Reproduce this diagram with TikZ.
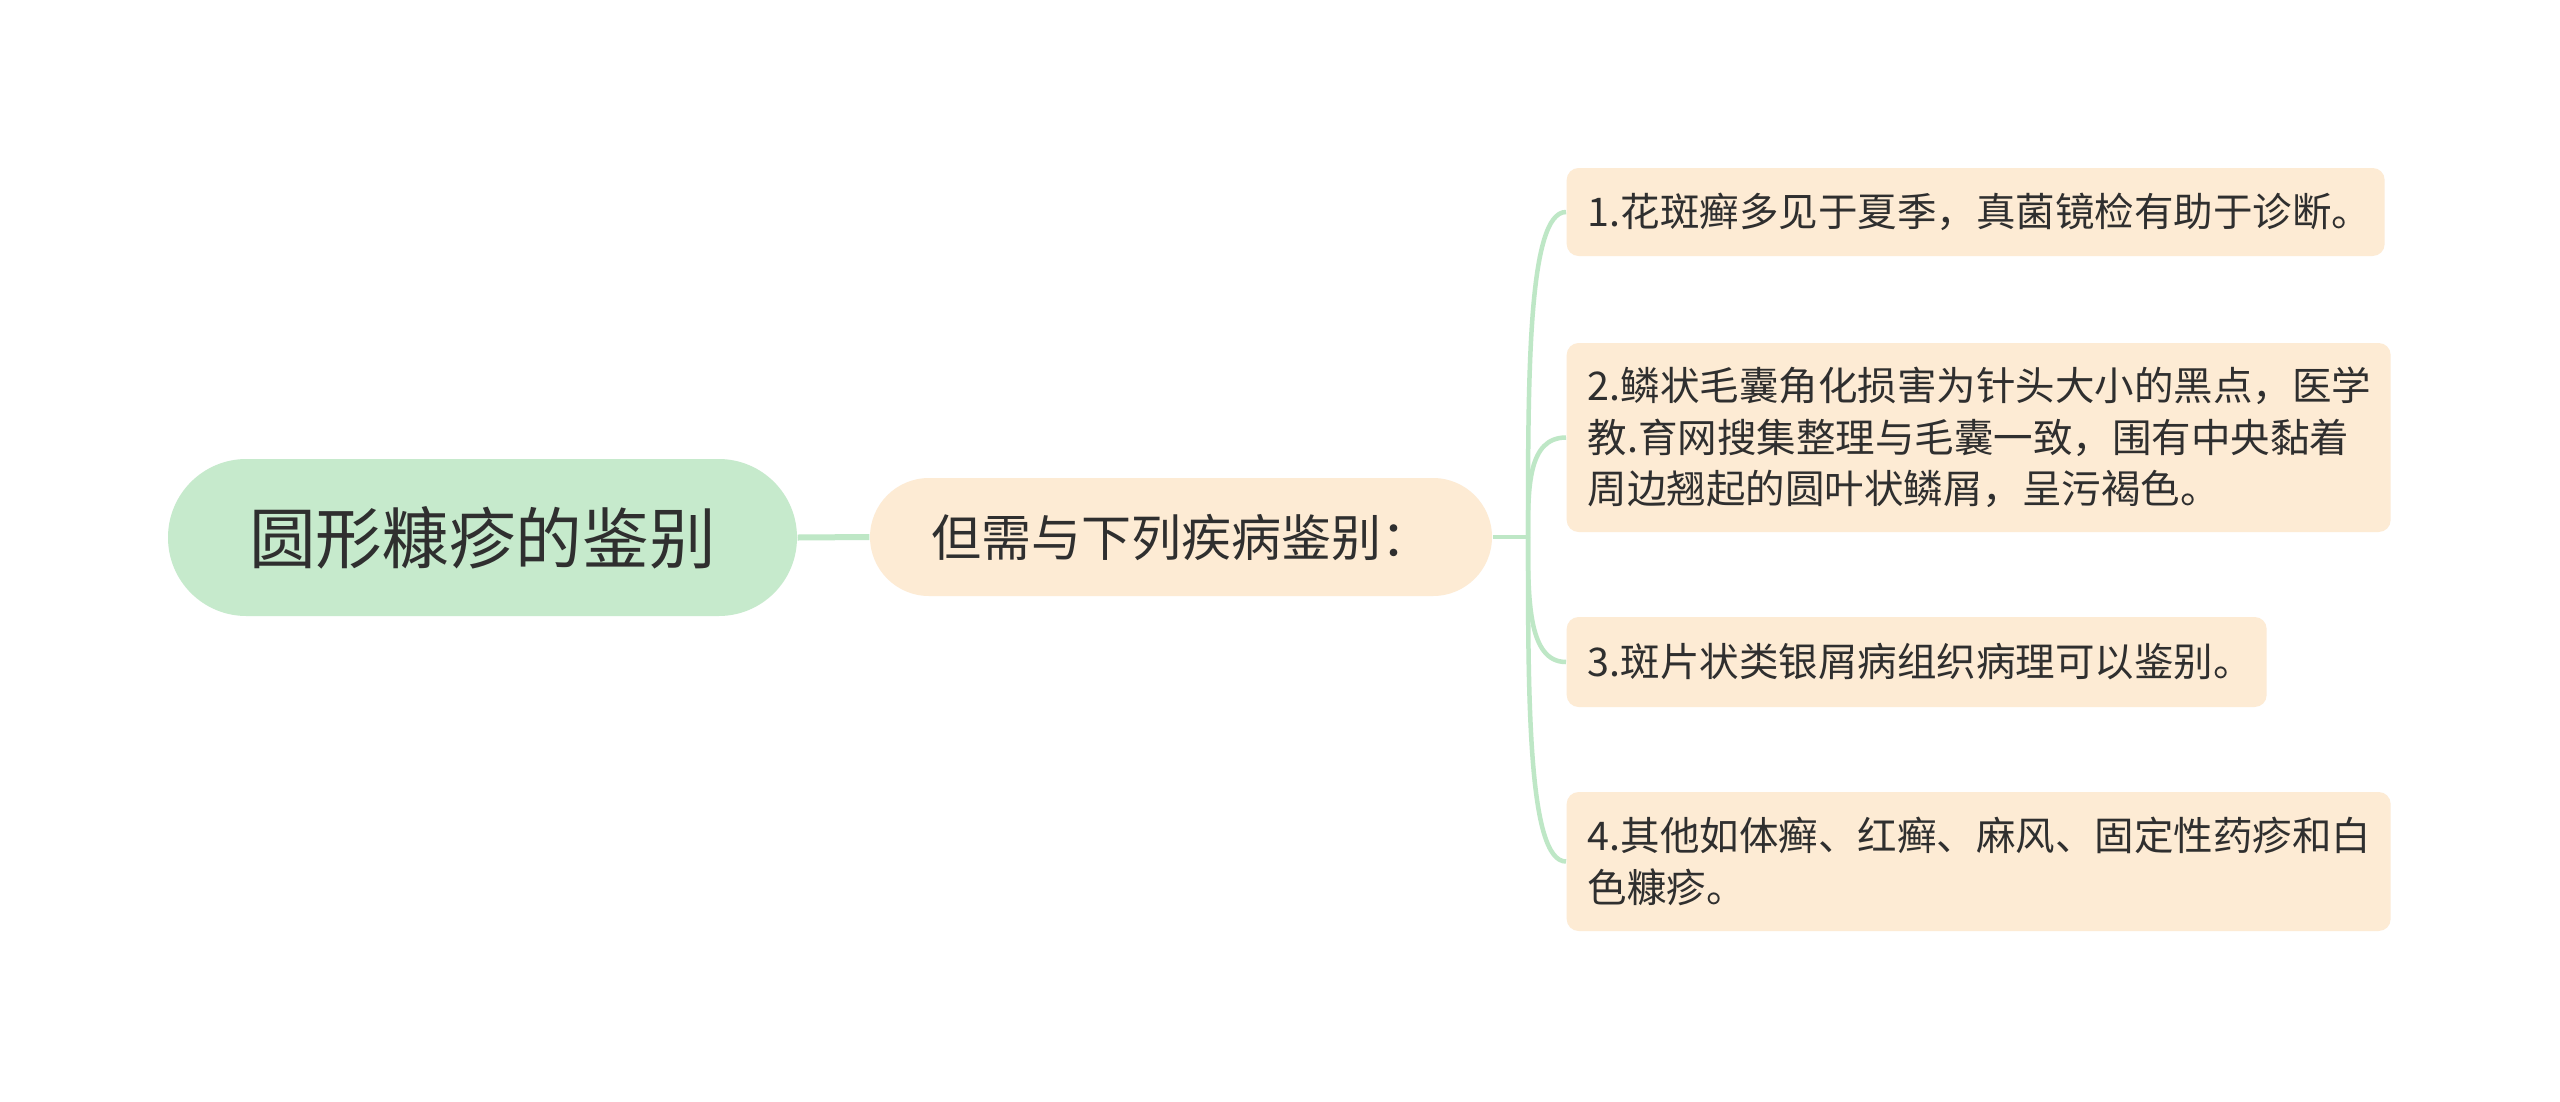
\documentclass[tikz,border=0pt]{standalone}
\usepackage{fontspec}
\setmainfont{Noto Sans CJK SC}
\usetikzlibrary{calc}
\definecolor{rootfill}{HTML}{C6EACC}
\definecolor{peach}{HTML}{FDEBD4}
\definecolor{linkgreen}{HTML}{BEE7C6}
\definecolor{txt}{HTML}{2F2F2F}
\begin{document}
\begin{tikzpicture}[x=0.3pt,y=-0.3pt,
  rootbox/.style={fill=rootfill, text=txt, inner sep=0pt, rounded corners=23.5pt,
    minimum width=188.7pt, minimum height=47.1pt, font=\fontsize{20pt}{24pt}\selectfont},
  midbox/.style={fill=peach, text=txt, inner sep=0pt, rounded corners=17.7pt,
    minimum width=186.6pt, minimum height=35.4pt, font=\fontsize{15pt}{18pt}\selectfont},
  leafbox/.style={fill=peach, text=txt, anchor=west, inner xsep=6.3pt, inner ysep=0pt,
    rounded corners=3.6pt, align=left, font=\fontsize{11.85pt}{15.5pt}\selectfont},
  link/.style={draw=linkgreen, line width=1.8pt},
  branch/.style={draw=linkgreen, line width=1.35pt}
]
\useasboundingbox (0,0) rectangle (2560,1101);
\fill[white] (0,0) rectangle (2560,1101);

\node[rootbox] (root) at (482.5,537.5) {圆形糠疹的鉴别};
\node[midbox] (mid) at (1181,537) {但需与下列疾病鉴别：};

\node[leafbox, text width=232.8pt, minimum height=26.4pt] (n1) at (1566,212)
  {1.花斑癣多见于夏季，真菌镜检有助于诊断。};
\node[leafbox, text width=234.6pt, minimum height=56.7pt] (n2) at (1566,437.5)
  {2.鳞状毛囊角化损害为针头大小的黑点，医学\\教.育网搜集整理与毛囊一致，围有中央黏着\\周边翘起的圆叶状鳞屑，呈污褐色。};
\node[leafbox, text width=197.4pt, minimum height=27pt] (n3) at (1566,662)
  {3.斑片状类银屑病组织病理可以鉴别。};
\node[leafbox, text width=234.6pt, minimum height=41.7pt] (n4) at (1566,861.5)
  {4.其他如体癣、红癣、麻风、固定性药疹和白\\色糠疹。};

\coordinate (trunk) at (1528,537);
\draw[link] (root.east) -- (mid.west);
\draw[branch] (mid.east) -- (trunk);
\foreach \n in {n1,n2,n3,n4}{
  \draw[branch] (trunk) .. controls ($(trunk)!0.5!(trunk |- \n.west)$) and (trunk |- \n.west) .. (\n.west);
}
\end{tikzpicture}
\end{document}
